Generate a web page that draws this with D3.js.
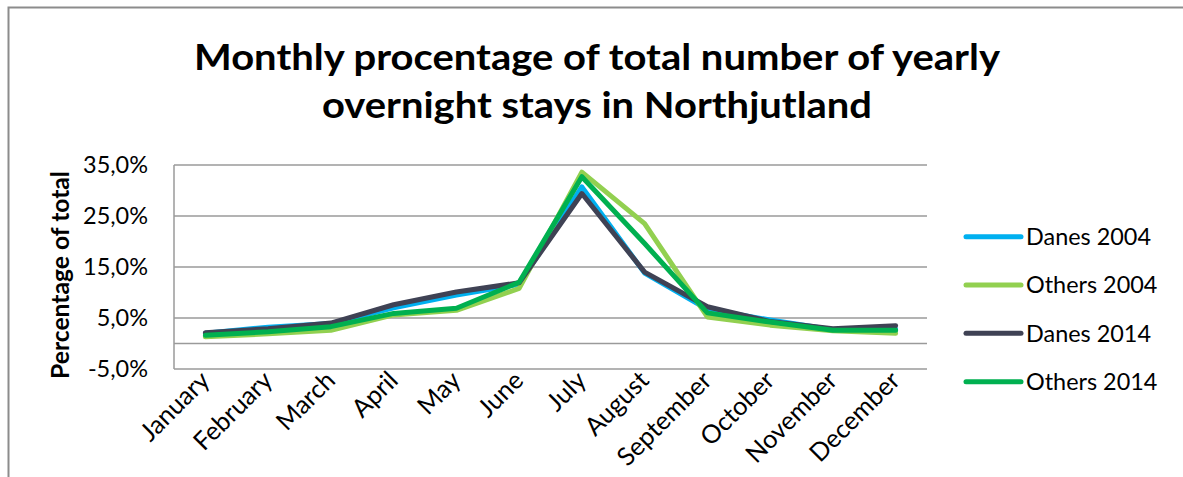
<!DOCTYPE html>
<html>
<head>
<meta charset="utf-8">
<script src="https://cdn.jsdelivr.net/npm/d3@7"></script>
<style>
  html, body { margin: 0; padding: 0; background: #fff; }
  svg { display: block; }
  text { font-family: Lato, "Open Sans", sans-serif; fill: #000; }
</style>
</head>
<body>
<svg id="chart" width="1183" height="477"></svg>
<script>
const months = ["January","February","March","April","May","June","July","August","September","October","November","December"];
const seriesNames = ["Danes 2004","Others 2004","Danes 2014","Others 2014"];
const seriesColors = ["#00B0F0","#92D050","#3F4254","#00B050"];
const danes2004  = [2.0, 3.2, 3.9, 7.0, 9.5, 11.6, 30.7, 13.8, 6.7, 4.6, 2.7, 2.8];
const others2004 = [1.3, 1.9, 2.6, 5.6, 6.5, 10.8, 33.6, 23.5, 5.2, 3.6, 2.5, 2.0];
const danes2014  = [2.1, 2.9, 4.0, 7.6, 10.1, 11.9, 29.4, 14.0, 7.2, 4.3, 2.9, 3.5];
const others2014 = [1.6, 2.3, 3.3, 5.9, 6.9, 12.0, 32.7, 19.6, 6.0, 4.2, 2.6, 2.6];
const yTicks = [-5, 5, 15, 25, 35];
const titleLines = ["Monthly procentage of total number of yearly", "overnight stays in Northjutland"];
const yAxisTitle = "Percentage of total";

const allSeries = [danes2004, others2004, danes2014, others2014];

const svg = d3.select("#chart");

function fitSize(txt, weight, target) {
  const t = svg.append("text").attr("font-size", 100).attr("font-weight", weight).text(txt);
  const w = t.node().getComputedTextLength();
  t.remove();
  return 100 * target / w;
}

// outer frame (only top and left edges visible)
svg.append("path")
  .attr("d", "M8.5,477 L8.5,7.5 L1183,7.5")
  .attr("fill", "none").attr("stroke", "#8c8c8c").attr("stroke-width", 2);

const plot = {left: 174, right: 927, top: 165, bottom: 369};

const x = d3.scaleBand().domain(months).range([plot.left, plot.right]);
const y = d3.scaleLinear().domain([-5, 35]).range([plot.bottom, plot.top]);

const loc = d3.formatLocale({decimal: ",", thousands: ".", grouping: [3], currency: ["", "€"], minus: "-"});
const fmt = v => loc.format(".1f")(v) + "%";

// gridlines
svg.append("g").selectAll("line").data(yTicks.concat([0])).join("line")
  .attr("x1", plot.left).attr("x2", plot.right)
  .attr("y1", d => y(d)).attr("y2", d => y(d))
  .attr("stroke", "#9a9a9a").attr("stroke-width", 1.5);

// left axis line
svg.append("line")
  .attr("x1", plot.left).attr("x2", plot.left)
  .attr("y1", plot.top).attr("y2", plot.bottom)
  .attr("stroke", "#9a9a9a").attr("stroke-width", 1.5);

// y tick labels
const tickSize = fitSize("35,0%", "normal", 65);
const yAxis = d3.axisLeft(y).tickValues(yTicks).tickFormat(fmt).tickSize(0).tickPadding(26);
const yg = svg.append("g").attr("transform", `translate(${plot.left},0)`).call(yAxis);
yg.select(".domain").remove();
yg.selectAll("text").attr("font-size", tickSize).attr("font-family", "Lato, 'Open Sans', sans-serif").attr("fill", "#000");

// y axis title
const atSize = fitSize(yAxisTitle, "bold", 208);
svg.append("text")
  .attr("transform", `translate(69,${(plot.top + plot.bottom) / 2 + 8}) rotate(-90)`)
  .attr("text-anchor", "middle")
  .attr("font-weight", "bold").attr("font-size", atSize)
  .text(yAxisTitle);

// month labels
const monSize = fitSize("January", "normal", 86);
const xAxis = d3.axisBottom(x).tickSize(0).tickPadding(0);
const xg = svg.append("g").call(xAxis);
xg.select(".domain").remove();
xg.selectAll("text")
  .attr("font-size", monSize).attr("font-family", "Lato, 'Open Sans', sans-serif").attr("fill", "#000")
  .attr("text-anchor", "end")
  .attr("y", 0).attr("x", 0).attr("dy", "0.72em")
  .attr("transform", "rotate(-45)");
xg.attr("transform", `translate(-7,${plot.bottom})`);

// lines
const line = d3.line().x((d, i) => x(months[i]) + x.bandwidth() / 2).y(d => y(d));
svg.append("g").selectAll("path").data(allSeries).join("path")
  .attr("d", line)
  .attr("fill", "none")
  .attr("stroke", (d, i) => seriesColors[i])
  .attr("stroke-width", 5)
  .attr("stroke-linejoin", "round")
  .attr("stroke-linecap", "round");

// legend
const legSize = fitSize("Danes 2004", "normal", 125);
const lg = svg.append("g");
const legY = d3.scalePoint().domain(seriesNames).range([236.7, 381.7]);
seriesNames.forEach((n, i) => {
  lg.append("line")
    .attr("x1", 966).attr("x2", 1021)
    .attr("y1", legY(n)).attr("y2", legY(n))
    .attr("stroke", seriesColors[i]).attr("stroke-width", 5).attr("stroke-linecap", "round");
  lg.append("text")
    .attr("x", 1026).attr("y", legY(n)).attr("dy", "0.36em")
    .attr("font-size", legSize)
    .text(n);
});

// title (narrowed to match condensed original face)
const titleWidths = [806, 550];
svg.append("g").selectAll("text").data(titleLines).join("text")
  .attr("x", 597)
  .attr("y", (d, i) => 70 + i * 48)
  .attr("text-anchor", "middle")
  .attr("font-weight", "bold")
  .attr("font-size", 37)
  .attr("textLength", (d, i) => titleWidths[i])
  .attr("lengthAdjust", "spacingAndGlyphs")
  .text(d => d);
</script>
</body>
</html>
